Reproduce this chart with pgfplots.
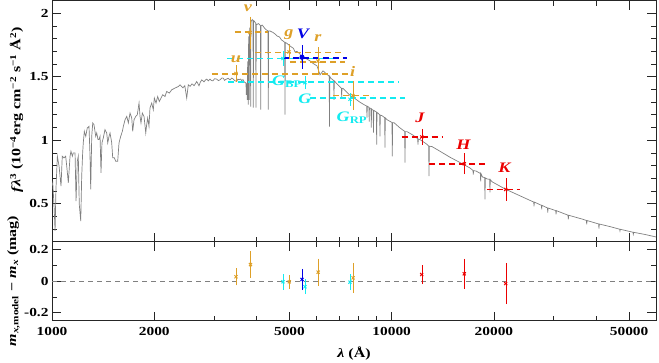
\documentclass[border=0pt]{standalone}
\usepackage{fontspec}
\setmainfont{Liberation Serif}[FakeStretch=1.25]
\usepackage{pgfplots}
\pgfplotsset{compat=1.18}

\definecolor{orng}{RGB}{222,160,40}
\definecolor{cyn}{RGB}{20,235,240}
\definecolor{blu}{RGB}{0,0,230}
\definecolor{rd}{RGB}{235,0,0}
\definecolor{spec}{RGB}{128,128,128}

\tikzset{lbl/.style={font=\fontsize{14.5}{17}\selectfont\bfseries\itshape},
  bandline/.style={dash pattern=on 6pt off 4pt, line width=1.6pt}}

\begin{document}
\begin{tikzpicture}[font=\fontsize{12.8}{15}\selectfont\bfseries]

% SED panel
\begin{axis}[at={(0,0)}, anchor=south west,
  scale only axis, width=604pt, height=241pt,
  xmode=log, xmin=1000, xmax=60000, ymin=0.2, ymax=2.1,
  xtick={1000,2000,5000,10000,20000,50000}, xticklabels={},
  minor xtick={3000,4000,6000,7000,8000,9000,30000,40000},
  ytick={0.5,1,1.5,2}, yticklabels={0.5,1,1.5,2},
  minor ytick={0.3,0.4,0.6,0.7,0.8,0.9,1.1,1.2,1.3,1.4,1.6,1.7,1.8,1.9},
  xtick pos=both, ytick pos=both, tick align=inside,
  major tick length=9pt, minor tick length=5pt,
  tick style={black!85, line width=0.8pt},
  axis line style={line width=0.9pt, black!85},
  tick label style={font=\fontsize{12.3}{14}\selectfont\bfseries}]

\addplot[spec, line width=0.7pt] coordinates {
(1000,0.6436)(1005,0.6648)(1014,0.4810)(1021,0.2846)(1027,0.6122)(1037,0.8737)
(1049,0.7952)(1063,0.6381)(1072,0.8737)(1085,0.8612)(1097,0.8737)(1105,0.7952)
(1117,0.6648)(1130,0.8737)(1137,0.9130)(1148,0.8737)(1155,0.9004)(1169,0.9004)
(1177,0.5202)(1187,0.8345)(1195,0.8737)(1203,0.4943)(1215,0.3631)(1223,0.7166)
(1231,0.9004)(1236,0.9790)(1245,1.0701)(1257,1.0308)(1270,1.0968)(1285,1.1094)
(1294,0.8737)(1300,0.6122)(1309,1.0308)(1318,1.1361)(1329,1.1228)(1345,1.0308)
(1354,1.0576)(1366,1.0049)(1375,1.0049)(1385,1.0308)(1394,0.7433)(1403,0.9790)
(1416,1.0183)(1432,1.0835)(1449,1.0576)(1459,0.9790)(1472,1.0308)(1482,1.0576)
(1499,0.9790)(1509,0.8612)(1526,0.8612)(1540,0.8345)(1561,0.8345)(1575,0.9790)
(1593,1.0308)(1611,1.0701)(1622,1.1094)(1641,1.1620)(1660,1.1880)(1678,1.1361)
(1697,1.2147)(1717,1.1754)(1728,1.0701)(1744,1.1620)(1764,1.1880)(1783,1.2013)
(1804,1.2932)(1816,1.1880)(1828,1.1361)(1845,1.2147)(1866,1.1880)(1888,1.0576)
(1900,1.1228)(1913,1.1754)(1930,1.1094)(1943,1.2540)(1966,1.2932)(1987,1.2406)
(2001,1.3325)(2024,1.2932)(2047,1.3451)(2070,1.3058)(2094,1.3325)(2118,1.3584)
(2151,1.3451)(2176,1.3844)(2215,1.3718)(2251,1.3977)(2302,1.4111)(2354,1.4236)
(2382,1.4370)(2430,1.4134)(2460,1.4300)(2492,1.3325)(2519,1.4370)(2550,1.4250)
(2583,1.4448)(2620,1.4300)(2667,1.4629)(2709,1.4291)(2730,1.4550)(2759,1.4763)
(2802,1.4605)(2830,1.4750)(2854,1.4818)(2885,1.4680)(2919,1.4818)(2950,1.4700)
(2978,1.4684)(3010,1.4850)(3054,1.4818)(3090,1.4700)(3123,1.4763)(3160,1.4900)
(3194,1.4896)(3220,1.4720)(3253,1.4802)(3300,1.4880)(3342,1.4763)(3380,1.4900)
(3411,1.4841)(3450,1.4700)(3497,1.4629)(3525,1.4820)(3552,1.4763)(3590,1.4820)
(3618,1.4708)(3650,1.4780)(3675,1.4605)(3712,1.4527)(3725,1.452)
(3732,1.3584)(3740,1.4448)(3750,1.445)(3758,1.3191)(3764,1.55)(3768,1.6177)
(3776,1.62)(3783,1.2799)(3790,1.75)(3796,1.8062)(3803,1.80)(3809,1.3191)
(3815,1.85)(3822,1.8847)(3838,1.89)(3845,1.2642)(3852,1.92)(3861,1.9397)
(3887,1.9515)(3906,1.945)(3914,1.2563)(3922,1.943)(3938,1.9397)(3964,1.9280)
(3978,1.925)(3986,1.2563)(3994,1.915)(4008,1.9122)(4054,1.9201)(4106,1.905)
(4115,1.2406)(4124,1.903)(4157,1.9083)(4222,1.8847)(4280,1.8690)(4324,1.862)
(4333,1.2406)(4342,1.86)(4383,1.8612)(4473,1.8494)(4534,1.8376)(4596,1.8219)
(4674,1.8140)(4738,1.7905)(4786,1.7826)(4842,1.772)(4852,1.2013)(4862,1.771)
(4918,1.7630)(5019,1.7433)(5140,1.7237)(5192,1.6962)(5263,1.7001)(5371,1.6805)
(5426,1.6334)(5482,1.6609)(5613,1.6412)(5748,1.6255)(5866,1.6059)(6027,1.5862)
(6151,1.5155)(6278,1.5470)(6450,1.5195)(6547,1.505)(6560,1.1071)(6573,1.503)
(6627,1.4880)(6750,1.47)(6763,1.3191)(6776,1.468)(6856,1.4527)(7044,1.4213)
(7110,1.41)(7125,1.3427)(7140,1.408)(7188,1.4095)(7538,1.3545)(7810,1.3270)
(8066,1.2995)(8344,1.2759)(8440,1.27)(8458,1.1777)(8475,1.268)(8516,1.2642)
(8570,1.26)(8585,1.1463)(8600,1.255)(8644,1.2524)(8690,1.25)(8708,1.0992)
(8725,1.246)(8768,1.2406)(8820,1.237)(8839,1.0599)(8858,1.234)(8899,1.2327)
(9015,1.222)(9033,0.9657)(9051,1.220)(9113,1.2131)(9220,1.20)(9237,1.0308)
(9255,1.198)(9363,1.1935)(9535,1.178)(9555,0.9421)(9575,1.176)(9686,1.1620)
(10020,1.14)(10041,0.8737)(10062,1.138)(10157,1.1385)(10579,1.0968)(10920,1.07)
(10944,0.8242)(10968,1.068)(11093,1.0678)(11554,1.0403)(11925,1.012)(11951,0.9657)
(11977,1.010)(12114,1.0049)(12618,0.9735)(12850,0.955)(12877,0.7166)(12904,0.953)
(13142,0.9499)(13874,0.9130)(14847,0.8659)(15889,0.8242)(17004,0.7810)(17350,0.762)
(17388,0.7300)(17426,0.760)(17709,0.7575)(18240,0.738)(18281,0.6750)(18322,0.736)
(18506,0.7103)(18780,0.705)(18822,0.5336)(18864,0.703)(19079,0.6946)(19430,0.692)
(19470,0.5886)(19510,0.690)(19736,0.673)(21554,0.6161)(23860,0.5618)(26190,0.5124)
(26243,0.4786)(26300,0.5122)(27590,0.487)(27646,0.4550)(27700,0.4863)(28745,0.4662)
(28805,0.4291)(28865,0.4657)(30400,0.4450)(30469,0.4158)(30540,0.4446)(33040,0.4090)
(33110,0.3765)(33180,0.4085)(36586,0.3765)(37430,0.3675)(37515,0.3372)(37600,0.3668)
(40660,0.3399)(40755,0.3034)(40850,0.3392)(43923,0.3191)(46880,0.2985)(46990,0.2846)
(47100,0.2978)(51300,0.2748)(51434,0.2587)(51570,0.2740)(55681,0.2570)(60000,0.2374)
};

% filter widths
\addplot[color=orng, bandline] coordinates {(3457,1.853)(4323,1.853)};
\addplot[color=orng, bandline] coordinates {(3959,1.692)(7190,1.692)};
\addplot[color=orng, bandline] coordinates {(5019,1.618)(7288,1.618)};
\addplot[color=orng, bandline] coordinates {(2958,1.523)(7436,1.523)};
\addplot[color=cyn, bandline] coordinates {(3275,1.645)(6856,1.645)};
\addplot[color=cyn, bandline] coordinates {(3300,1.457)(10508,1.457)};
\addplot[color=cyn, bandline] coordinates {(5747,1.333)(10942,1.333)};
\addplot[color=orng, bandline] coordinates {(6718,1.353)(8810,1.353)};
\addplot[color=blu, bandline] coordinates {(4786,1.650)(7385,1.650)};
\addplot[color=rd, bandline] coordinates {(10700,1.026)(14160,1.026)};
\addplot[color=rd, bandline] coordinates {(12900,0.814)(19040,0.814)};
\addplot[color=rd, bandline] coordinates {(19040,0.613)(23860,0.613)};

% observed fluxes
\addplot[orng, only marks, mark=x, mark size=2.2pt, line width=1pt,
  error bars/.cd, y dir=both, y explicit, error mark options={mark size=3.6pt}] coordinates {
(3481,1.526) +- (0,0.037) (3830,1.849) +- (0,0.098) (4985,1.696) +- (0,0.031)
(6068,1.624) +- (0,0.082) (7692,1.352) +- (0,0.085)};
\addplot[cyn, only marks, mark=x, mark size=2.2pt, line width=1pt,
  error bars/.cd, y dir=both, y explicit, error mark options={mark size=3.6pt}] coordinates {
(4786,1.644) +- (0,0.030) (5556,1.454) +- (0,0.022) (7538,1.323) +- (0,0.022)};
\addplot[blu, only marks, mark=*, mark size=2pt, line width=1pt,
  error bars/.cd, y dir=both, y explicit, error mark options={mark size=3.6pt}] coordinates {
(5445,1.655) +- (0,0.065)};
\addplot[rd, only marks, mark=x, mark size=2.2pt, line width=1pt,
  error bars/.cd, y dir=both, y explicit, error mark options={mark size=3.6pt}] coordinates {
(12256,1.026) +- (0,0.035) (16360,0.814) +- (0,0.053) (21660,0.612) +- (0,0.061)};

\node[lbl, text=orng] at (axis cs:3776,2.040) {v};
\node[lbl, text=orng] at (axis cs:3481,1.639) {u};
\node[lbl, text=orng] at (axis cs:4985,1.835) {g};
\node[lbl, text=orng] at (axis cs:6068,1.806) {r};
\node[lbl, text=orng] at (axis cs:7676,1.542) {i};
\node[lbl, text=blu] at (axis cs:5482,1.838) {V};
\node[lbl, text=cyn] at (axis cs:4918,1.462) {G\textsubscript{\upshape BP}};
\node[lbl, text=cyn] at (axis cs:5556,1.325) {G};
\node[lbl, text=cyn] at (axis cs:7640,1.176) {G\textsubscript{\upshape RP}};
\node[lbl, text=rd] at (axis cs:12114,1.178) {J};
\node[lbl, text=rd] at (axis cs:16250,0.966) {H};
\node[lbl, text=rd] at (axis cs:21460,0.785) {K};
\end{axis}

% residual panel
\begin{axis}[at={(0,0)}, anchor=north west,
  scale only axis, width=604pt, height=79pt,
  xmode=log, xmin=1000, xmax=60000, ymin=-0.25, ymax=0.25,
  xtick={1000,2000,5000,10000,20000,50000},
  xticklabels={1000,2000,5000,10000,20000,50000},
  minor xtick={3000,4000,6000,7000,8000,9000,30000,40000},
  ytick={-0.2,0,0.2}, yticklabels={-0.2,0,0.2}, minor ytick={-0.1,0.1},
  xtick pos=both, ytick pos=both, tick align=inside,
  major tick length=9pt, minor tick length=5pt,
  tick style={black!85, line width=0.8pt},
  axis line style={line width=0.9pt, black!85},
  tick label style={font=\fontsize{12.3}{14}\selectfont\bfseries},
  xticklabel style={yshift=-3pt}]
\addplot[gray, dash pattern=on 5pt off 4pt, line width=0.8pt] coordinates {(1000,0)(60000,0)};
\addplot[orng, only marks, mark=x, mark size=2.2pt, line width=1pt,
  error bars/.cd, y dir=both, y explicit, error mark options={mark size=3.6pt}] coordinates {
(3481,0.028) +- (0,0.032) (3840,0.105) +- (0,0.061) (4995,-0.004) +- (0,0.021)
(6075,0.057) +- (0,0.063) (7700,0.021) +- (0,0.073)};
\addplot[cyn, only marks, mark=x, mark size=2.2pt, line width=1pt,
  error bars/.cd, y dir=both, y explicit, error mark options={mark size=3.6pt}] coordinates {
(4786,-0.004) +- (0,0.026) (5556,-0.035) +- (0,0.024) (7538,-0.006) +- (0,0.028)};
\addplot[blu, only marks, mark=x, mark size=2.2pt, line width=1pt,
  error bars/.cd, y dir=both, y explicit, error mark options={mark size=3.6pt}] coordinates {
(5445,0.011) +- (0,0.045)};
\addplot[rd, only marks, mark=x, mark size=2.2pt, line width=1pt,
  error bars/.cd, y dir=both, y explicit, error mark options={mark size=3.6pt}] coordinates {
(12256,0.042) +- (0,0.037) (16360,0.047) +- (0,0.071) (21660,-0.015) +- (0,0.107)};
\end{axis}

\node at (302pt,-112.3pt) {\textit{λ} (Å)};
\node[rotate=90] at (-35.5pt,132pt)
  {\textit{fλ}\textsuperscript{3} (10\textsuperscript{−4}erg cm\textsuperscript{−2} s\textsuperscript{−1} Å\textsuperscript{2})};
\node[rotate=90] at (-38.5pt,-39.3pt)
  {\textit{m}\textsubscript{\textit{x},model} − \textit{m}\textsubscript{\textit{x}} (mag)};

\pgfresetboundingbox
\path[use as bounding box] (-52pt,-120.3pt) rectangle (607pt,241.7pt);
\end{tikzpicture}
\end{document}
